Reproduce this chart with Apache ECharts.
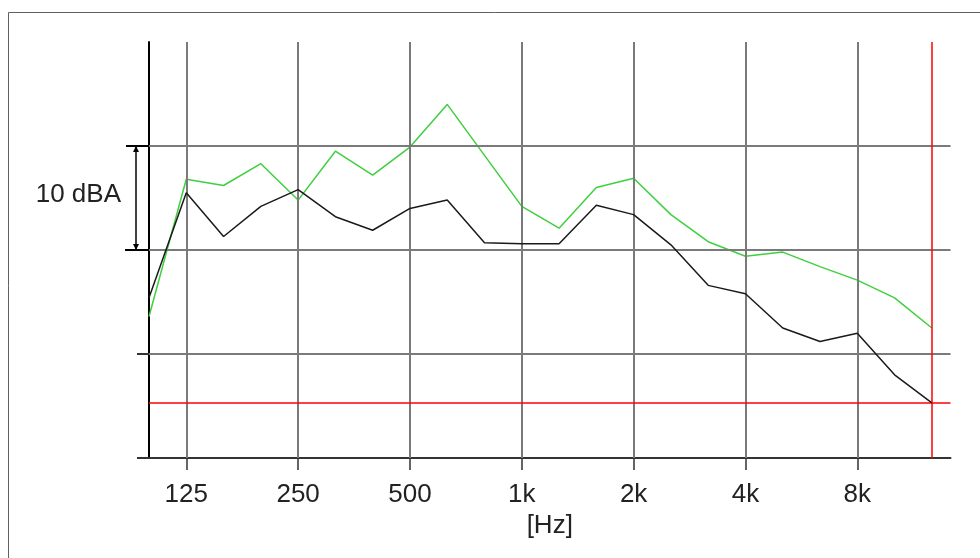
<!DOCTYPE html>
<html>
<head>
<meta charset="utf-8">
<script src="https://cdn.jsdelivr.net/npm/echarts@6/dist/echarts.min.js"></script>
<style>
  html, body { margin: 0; padding: 0; background: #fff; }
  #main { width: 980px; height: 558px; }
</style>
</head>
<body>
<div id="main"></div>
<script>
// third-octave bands, 100 Hz .. 12.5 kHz (x = band index)
var bands = ['100', '125', '160', '200', '250', '315', '400', '500', '630', '800', '1k',
             '1.25k', '1.6k', '2k', '2.5k', '3.15k', '4k', '5k', '6.3k', '8k', '10k', '12.5k'];
var levelBlack = [15.4, 25.5, 21.3, 24.2, 25.8, 23.2, 21.9, 24.0, 24.8, 20.7, 20.6,
                  20.6, 24.3, 23.4, 20.5, 16.6, 15.8, 12.5, 11.2, 12.0, 8.0, 5.3];
var levelGreen = [13.6, 26.8, 26.2, 28.3, 24.8, 29.5, 27.2, 29.9, 34.0, 29.1, 24.2,
                  22.1, 26.0, 26.9, 23.4, 20.8, 19.4, 19.8, 18.4, 17.1, 15.4, 12.5];
var octaveIndex = [1, 4, 7, 10, 13, 16, 19];
var octaveLabels = ['125', '250', '500', '1k', '2k', '4k', '8k'];
var levelGrid = [10, 20, 30];
var limitLevel = 5.3;
var limitBand = 21;

var font = '"Liberation Sans", Arial, sans-serif';
var myChart = echarts.init(document.getElementById('main'));

var gridLines = [];
octaveIndex.forEach(function (i) {
    gridLines.push({ xAxis: i, lineStyle: { color: '#7a7a7a', width: 2, type: 'solid' } });
});
levelGrid.forEach(function (v) {
    gridLines.push({ yAxis: v, lineStyle: { color: '#7a7a7a', width: 2, type: 'solid' } });
});
gridLines.push({ xAxis: limitBand, lineStyle: { color: '#ff0000', width: 1.5, type: 'solid' } });
gridLines.push({ yAxis: limitLevel, lineStyle: { color: '#ff0000', width: 1.5, type: 'solid' } });

var option = {
    animation: false,
    grid: { left: 149, right: 29.5, top: 42, bottom: 100 },
    xAxis: {
        type: 'value',
        min: 0,
        max: 21.5,
        splitLine: { show: false },
        axisLine: { lineStyle: { color: '#333', width: 2 } },
        axisTick: { customValues: octaveIndex, length: 12, lineStyle: { color: '#333', width: 1.5 } },
        axisLabel: {
            customValues: octaveIndex,
            formatter: function (v) { return octaveLabels[octaveIndex.indexOf(Math.round(v))]; },
            fontSize: 26, color: '#222', fontFamily: font, margin: 24
        },
        name: '[Hz]',
        nameLocation: 'middle',
        nameGap: 51,
        nameTextStyle: { fontSize: 26, color: '#222', fontFamily: font }
    },
    yAxis: {
        type: 'value',
        min: 0,
        max: 40,
        interval: 10,
        axisLine: { show: true, lineStyle: { color: '#000', width: 2 } },
        axisTick: { show: true, customValues: [0, 10], length: 12, lineStyle: { color: '#333', width: 2 } },
        axisLabel: { show: false },
        splitLine: { show: false }
    },
    series: [
        {
            type: 'line',
            data: [],
            z: 1,
            silent: true,
            markLine: {
                silent: true,
                symbol: ['none', 'none'],
                label: { show: false },
                data: gridLines
            }
        },
        {
            name: 'green',
            type: 'line',
            z: 4,
            symbol: 'none',
            data: levelGreen.map(function (v, i) { return [i, v]; }),
            lineStyle: { color: '#3fcf3f', width: 1.5 }
        },
        {
            name: 'black',
            type: 'line',
            z: 5,
            symbol: 'none',
            data: levelBlack.map(function (v, i) { return [i, v]; }),
            lineStyle: { color: '#1a1a1a', width: 1.5 }
        }
    ]
};
myChart.setOption(option);

// frame, "10 dBA" scale bracket
var p30 = myChart.convertToPixel({ gridIndex: 0 }, [0, levelGrid[2]]);
var p20 = myChart.convertToPixel({ gridIndex: 0 }, [0, levelGrid[1]]);
var bx = p30[0] - 13;
myChart.setOption({
    graphic: [
        { type: 'rect', z: 0, shape: { x: 8.5, y: 12.5, width: 1000, height: 600 },
          style: { fill: 'none', stroke: '#606060', lineWidth: 1 } },
        { type: 'line', shape: { x1: p30[0] - 23, y1: p30[1], x2: p30[0], y2: p30[1] },
          style: { stroke: '#000', lineWidth: 2 } },
        { type: 'line', shape: { x1: p20[0] - 24, y1: p20[1], x2: p20[0], y2: p20[1] },
          style: { stroke: '#000', lineWidth: 2 } },
        { type: 'line', shape: { x1: bx, y1: p30[1], x2: bx, y2: p20[1] },
          style: { stroke: '#000', lineWidth: 1.5 } },
        { type: 'polygon', shape: { points: [[bx - 3, p30[1] + 6], [bx + 3, p30[1] + 6], [bx, p30[1]]] },
          style: { fill: '#000' } },
        { type: 'polygon', shape: { points: [[bx - 3, p20[1] - 6], [bx + 3, p20[1] - 6], [bx, p20[1]]] },
          style: { fill: '#000' } },
        { type: 'text', x: 121, y: (p30[1] + p20[1]) / 2 - 3,
          style: { text: '10 dBA', fill: '#222', font: '26px ' + font, align: 'right', verticalAlign: 'middle' } }
    ]
});
</script>
</body>
</html>
